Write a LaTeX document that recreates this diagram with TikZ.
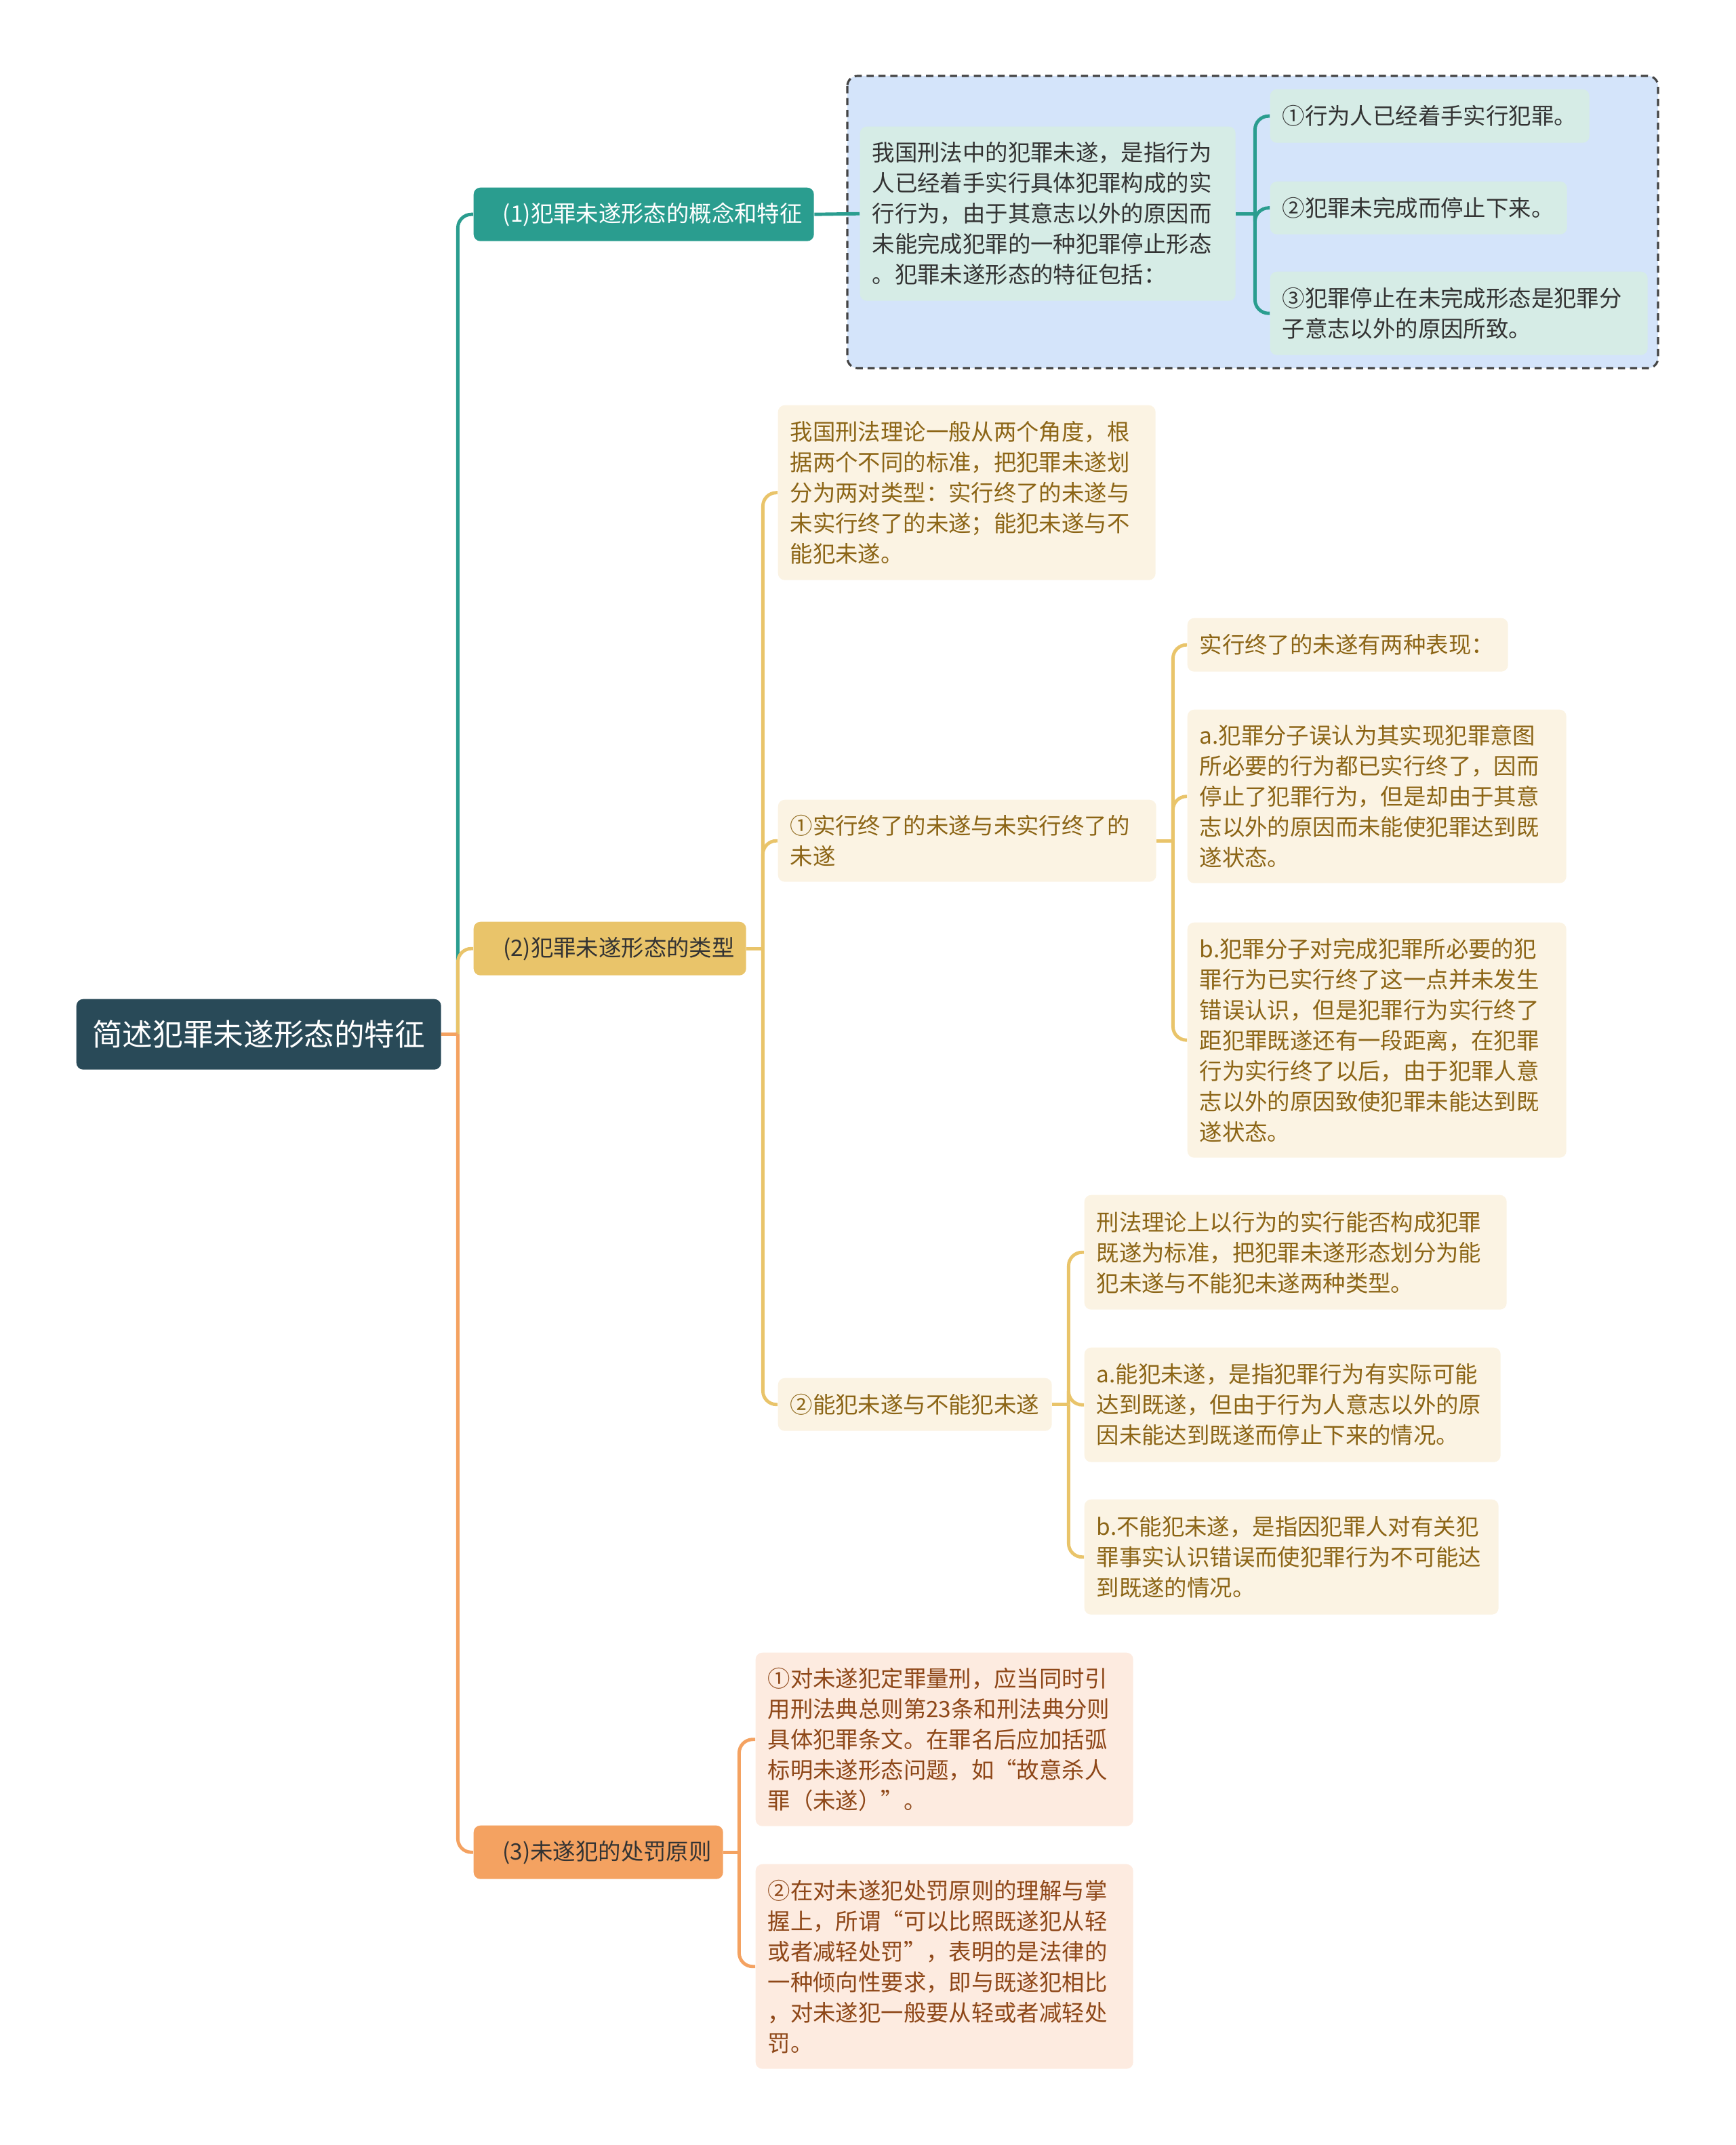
\documentclass[tikz,border=0pt]{standalone}
\usepackage{fontspec}
\setmainfont{Noto Sans CJK SC}

\definecolor{rootblue}{HTML}{294A58}
\definecolor{teal1}{HTML}{2A9D8F}
\definecolor{gold2}{HTML}{E9C46A}
\definecolor{peach3}{HTML}{F4A261}
\definecolor{groupbg}{HTML}{D4E4FA}
\definecolor{groupline}{HTML}{444444}
\definecolor{mintleaf}{HTML}{D6ECE6}
\definecolor{creamleaf}{HTML}{FBF3E3}
\definecolor{goldtext}{HTML}{8C6516}
\definecolor{peachleaf}{HTML}{FDEBE0}
\definecolor{peachtext}{HTML}{8E4718}
\definecolor{darktext}{HTML}{333333}

\begin{document}
\begin{tikzpicture}[
  box/.style={rounded corners=0.1cm, anchor=north west, inner xsep=0.18cm, inner ysep=0pt, font=\fontsize{9.5}{12.8}\selectfont},
  topic/.style={box, align=right, inner xsep=0.17cm, minimum height=0.79cm},
  leaf/.style={box, align=left},
  mint/.style={leaf, fill=mintleaf, text=darktext},
  cream/.style={leaf, fill=creamleaf, text=goldtext},
  peach/.style={leaf, fill=peachleaf, text=peachtext},
  link/.style={line width=1.4pt, rounded corners=0.2cm},
]

\useasboundingbox (0,0) rectangle (25.6,-31.64);

% dashed group behind branch (1)
\draw[dash pattern=on 3pt off 2pt, line width=0.9pt, draw=groupline, fill=groupbg, rounded corners=0.15cm]
  (12.5,-1.12) rectangle (24.46,-5.43);

\node[box, fill=rootblue, text=white, minimum width=5.38cm, minimum height=1.04cm,
  font=\fontsize{12.7}{15}\selectfont] (root) at (1.12,-14.73) {简述犯罪未遂形态的特征};

\node[topic, fill=teal1, text=white, text width=4.68cm] (n1) at (6.98,-2.76) {(1)犯罪未遂形态的概念和特征};
\node[topic, fill=gold2, text=darktext, text width=3.68cm] (n2) at (6.98,-13.59) {(2)犯罪未遂形态的类型};
\node[topic, fill=peach3, text=darktext, text width=3.34cm] (n3) at (6.98,-26.92) {(3)未遂犯的处罚原则};

% branch (1)
\node[mint, text width=5.18cm, minimum height=2.57cm] (s1) at (12.68,-1.86)
  {我国刑法中的犯罪未遂，是指行为\\人已经着手实行具体犯罪构成的实\\行行为，由于其意志以外的原因而\\未能完成犯罪的一种犯罪停止形态\\。犯罪未遂形态的特征包括：};
\node[mint, text width=4.35cm, minimum height=0.79cm] (s1a) at (18.73,-1.31) {①行为人已经着手实行犯罪。};
\node[mint, text width=4.02cm, minimum height=0.78cm] (s1b) at (18.73,-2.67) {②犯罪未完成而停止下来。};
\node[mint, text width=5.21cm, minimum height=1.23cm] (s1c) at (18.73,-4.00)
  {③犯罪停止在未完成形态是犯罪分\\子意志以外的原因所致。};

% branch (2)
\node[cream, text width=5.21cm, minimum height=2.58cm] (t0) at (11.47,-5.97)
  {我国刑法理论一般从两个角度，根\\据两个不同的标准，把犯罪未遂划\\分为两对类型：实行终了的未遂与\\未实行终了的未遂；能犯未遂与不\\能犯未遂。};
\node[cream, text width=5.22cm, minimum height=1.21cm] (t1) at (11.47,-11.79)
  {①实行终了的未遂与未实行终了的\\未遂};
\node[cream, text width=4.37cm, minimum height=0.79cm] (t1h) at (17.51,-9.11) {实行终了的未遂有两种表现：};
\node[cream, text width=5.23cm, minimum height=2.56cm] (t1a) at (17.51,-10.46)
  {a.犯罪分子误认为其实现犯罪意图\\所必要的行为都已实行终了，因而\\停止了犯罪行为，但是却由于其意\\志以外的原因而未能使犯罪达到既\\遂状态。};
\node[cream, text width=5.23cm, minimum height=3.47cm] (t1b) at (17.51,-13.60)
  {b.犯罪分子对完成犯罪所必要的犯\\罪行为已实行终了这一点并未发生\\错误认识，但是犯罪行为实行终了\\距犯罪既遂还有一段距离，在犯罪\\行为实行终了以后，由于犯罪人意\\志以外的原因致使犯罪未能达到既\\遂状态。};
\node[cream, text width=3.68cm, minimum height=0.78cm] (t2) at (11.47,-20.32) {②能犯未遂与不能犯未遂};
\node[cream, text width=5.87cm, minimum height=1.69cm] (t2h) at (15.99,-17.62)
  {刑法理论上以行为的实行能否构成犯罪\\既遂为标准，把犯罪未遂形态划分为能\\犯未遂与不能犯未遂两种类型。};
\node[cream, text width=5.78cm, minimum height=1.69cm] (t2a) at (15.99,-19.87)
  {a.能犯未遂，是指犯罪行为有实际可能\\达到既遂，但由于行为人意志以外的原\\因未能达到既遂而停止下来的情况。};
\node[cream, text width=5.75cm, minimum height=1.70cm] (t2b) at (15.99,-22.11)
  {b.不能犯未遂，是指因犯罪人对有关犯\\罪事实认识错误而使犯罪行为不可能达\\到既遂的情况。};

% branch (3)
\node[peach, text width=5.21cm, minimum height=2.56cm] (p1) at (11.14,-24.37)
  {①对未遂犯定罪量刑，应当同时引\\用刑法典总则第23条和刑法典分则\\具体犯罪条文。在罪名后应加括弧\\标明未遂形态问题，如“故意杀人\\罪（未遂）”。};
\node[peach, text width=5.21cm, minimum height=3.02cm] (p2) at (11.14,-27.49)
  {②在对未遂犯处罚原则的理解与掌\\握上，所谓“可以比照既遂犯从轻\\或者减轻处罚”，表明的是法律的\\一种倾向性要求，即与既遂犯相比\\，对未遂犯一般要从轻或者减轻处\\罚。};

% junctions
\coordinate (j0) at ([xshift=0.24cm]root.east);
\coordinate (js) at ([xshift=0.28cm]s1.east);
\coordinate (j2) at ([xshift=0.24cm]n2.east);
\coordinate (jt1) at ([xshift=0.24cm]t1.east);
\coordinate (jt2) at ([xshift=0.24cm]t2.east);
\coordinate (j3) at ([xshift=0.23cm]n3.east);

% connectors
\draw[link, teal1] (j0) |- (n1.west);
\draw[link, gold2] (j0) |- (n2.west);
\draw[link, peach3] (j0) |- (n3.west);
\draw[link, peach3] (root.east) -- (j0);

\draw[link, teal1] (n1.east) -- (s1.west);
\draw[link, teal1] (s1.east) -- (js);
\foreach \c in {s1a,s1b,s1c}
  \draw[link, teal1] (js) |- (\c.west);

\draw[link, gold2] (n2.east) -- (j2);
\foreach \c in {t0,t1,t2}
  \draw[link, gold2] (j2) |- (\c.west);
\draw[link, gold2] (t1.east) -- (jt1);
\foreach \c in {t1h,t1a,t1b}
  \draw[link, gold2] (jt1) |- (\c.west);
\draw[link, gold2] (t2.east) -- (jt2);
\foreach \c in {t2h,t2a,t2b}
  \draw[link, gold2] (jt2) |- (\c.west);

\draw[link, peach3] (n3.east) -- (j3);
\foreach \c in {p1,p2}
  \draw[link, peach3] (j3) |- (\c.west);

\end{tikzpicture}
\end{document}
